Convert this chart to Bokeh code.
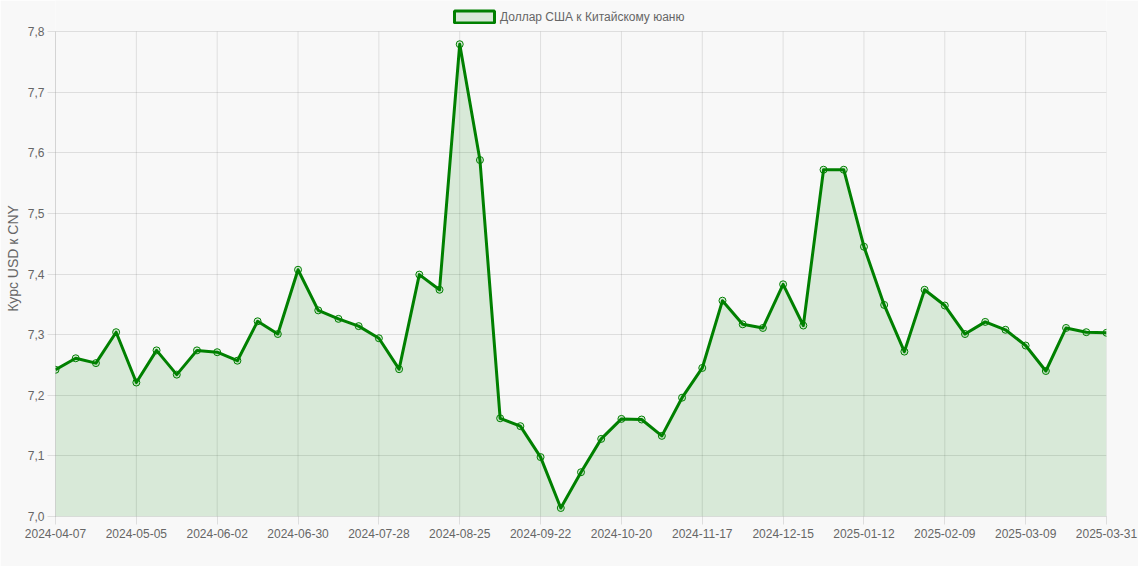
from bokeh.plotting import figure
from bokeh.models import (ColumnDataSource, Range1d, FixedTicker, CustomJSTickFormatter,
                          Legend, LegendItem)
from bokeh.embed import file_html
from bokeh.resources import INLINE

# ---- data ----
dates = [
    "2024-04-07", "2024-04-14", "2024-04-21", "2024-04-28", "2024-05-05", "2024-05-12",
    "2024-05-19", "2024-05-26", "2024-06-02", "2024-06-09", "2024-06-16", "2024-06-23",
    "2024-06-30", "2024-07-07", "2024-07-14", "2024-07-21", "2024-07-28", "2024-08-04",
    "2024-08-11", "2024-08-18", "2024-08-25", "2024-09-01", "2024-09-08", "2024-09-15",
    "2024-09-22", "2024-09-29", "2024-10-06", "2024-10-13", "2024-10-20", "2024-10-27",
    "2024-11-03", "2024-11-10", "2024-11-17", "2024-11-24", "2024-12-01", "2024-12-08",
    "2024-12-15", "2024-12-22", "2024-12-29", "2025-01-05", "2025-01-12", "2025-01-19",
    "2025-01-26", "2025-02-02", "2025-02-09", "2025-02-16", "2025-02-23", "2025-03-02",
    "2025-03-09", "2025-03-16", "2025-03-23", "2025-03-30", "2025-03-31",
]
usd_cny = [
    7.242, 7.261, 7.253, 7.304, 7.221, 7.274, 7.234, 7.274, 7.271, 7.257,
    7.322, 7.301, 7.407, 7.340, 7.326, 7.314, 7.294, 7.243, 7.399, 7.374,
    7.779, 7.588, 7.162, 7.149, 7.098, 7.014, 7.073, 7.128, 7.161, 7.160,
    7.133, 7.196, 7.245, 7.356, 7.317, 7.311, 7.383, 7.315, 7.572, 7.572,
    7.445, 7.349, 7.272, 7.374, 7.348, 7.301, 7.321, 7.308, 7.282, 7.240,
    7.311, 7.304, 7.303,
]
series_name = "Доллар США к Китайскому юаню"
y_title = "Курс USD к CNY"
y_min, y_max, y_step = 7.0, 7.8, 0.1
label_every = 4

GREEN = "#008000"
TXT = "#666666"
FONT = "Liberation Sans"
BG = "#f8f8f8"

# layout (pixels)
W, H = 1138, 566
LEFT, RIGHT, BOTTOM = 55, 32, 50
PLOT_TOP = 31                      # where the y_max line sits
frame_h = H - BOTTOM
plot_h = frame_h - PLOT_TOP
y_top = y_min + (y_max - y_min) * frame_h / plot_h   # headroom for the legend

idx = list(range(len(dates)))
src = ColumnDataSource(dict(x=idx, y=usd_cny, base=[y_min] * len(idx), d=dates))

p = figure(width=W, height=H, output_backend="svg", toolbar_location=None,
           x_range=Range1d(0, len(dates) - 1), y_range=Range1d(y_min, y_top),
           min_border_left=LEFT, min_border_right=RIGHT, min_border_top=0,
           min_border_bottom=BOTTOM,
           background_fill_color=BG, border_fill_color=BG)
p.outline_line_color = None

# x ticks
xticks = list(range(0, len(dates), label_every))
if xticks[-1] != len(dates) - 1:
    xticks.append(len(dates) - 1)

# vertical grid lines only over the plotted value range
p.xgrid.visible = False
p.segment(x0=xticks, x1=xticks, y0=[y_min] * len(xticks), y1=[y_max] * len(xticks),
          line_color="black", line_alpha=0.1, line_width=1, level="underlay")

p.varea(x="x", y1="base", y2="y", source=src, fill_color=GREEN, fill_alpha=0.13)
p.line(x="x", y="y", source=src, line_color=GREEN, line_width=3, line_join="round")
p.scatter(x="x", y="y", source=src, size=7, line_color=GREEN, line_width=1,
          fill_color=GREEN, fill_alpha=0.12)

# legend proxy (not drawn in the plot: NaN geometry)
nan = float("nan")
proxy = p.quad(left=[nan], right=[nan], top=[nan], bottom=[nan], fill_color=GREEN,
               fill_alpha=0.13, line_color=GREEN, line_width=3)
legend = Legend(items=[LegendItem(label=series_name, renderers=[proxy])],
                location=(394, 492), orientation="horizontal",
                glyph_width=50, glyph_height=15, label_standoff=1,
                padding=0, margin=0, spacing=0,
                label_text_font=FONT, label_text_font_size="12px", label_text_color=TXT,
                background_fill_alpha=0, border_line_color=None)
p.add_layout(legend, "center")

p.xaxis.ticker = FixedTicker(ticks=xticks)
p.xaxis.major_label_overrides = {i: dates[i] for i in xticks}

# y axis
n_y = int(round((y_max - y_min) / y_step))
yticks = [round(y_min + y_step * i, 1) for i in range(n_y + 1)]
p.yaxis.ticker = FixedTicker(ticks=yticks)
p.yaxis.bounds = (y_min, y_max)
p.yaxis.formatter = CustomJSTickFormatter(code="return tick.toFixed(1).replace('.', ',')")
p.yaxis.axis_label = y_title
p.yaxis.axis_label_text_font = FONT
p.yaxis.axis_label_text_font_size = "14px"
p.yaxis.axis_label_text_font_style = "normal"
p.yaxis.axis_label_text_color = TXT
p.yaxis.axis_label_standoff = 4

for ax in (p.xaxis, p.yaxis):
    ax.major_label_text_font = FONT
    ax.major_label_text_font_size = "12px"
    ax.major_label_text_color = TXT
    ax.major_tick_out = 8
    ax.major_tick_in = 0
    ax.minor_tick_line_color = None
    ax.major_label_standoff = 3
    ax.axis_line_color = "black"
    ax.axis_line_alpha = 0.1
    ax.major_tick_line_color = "black"
    ax.major_tick_line_alpha = 0.1
p.xaxis.major_label_standoff = 4

p.ygrid.grid_line_color = "black"
p.ygrid.grid_line_alpha = 0.1

html = file_html(p, INLINE)
html = html.replace("<body>", '<body style="background:#f8f8f8">', 1)
open("out.html", "w").write(html)
